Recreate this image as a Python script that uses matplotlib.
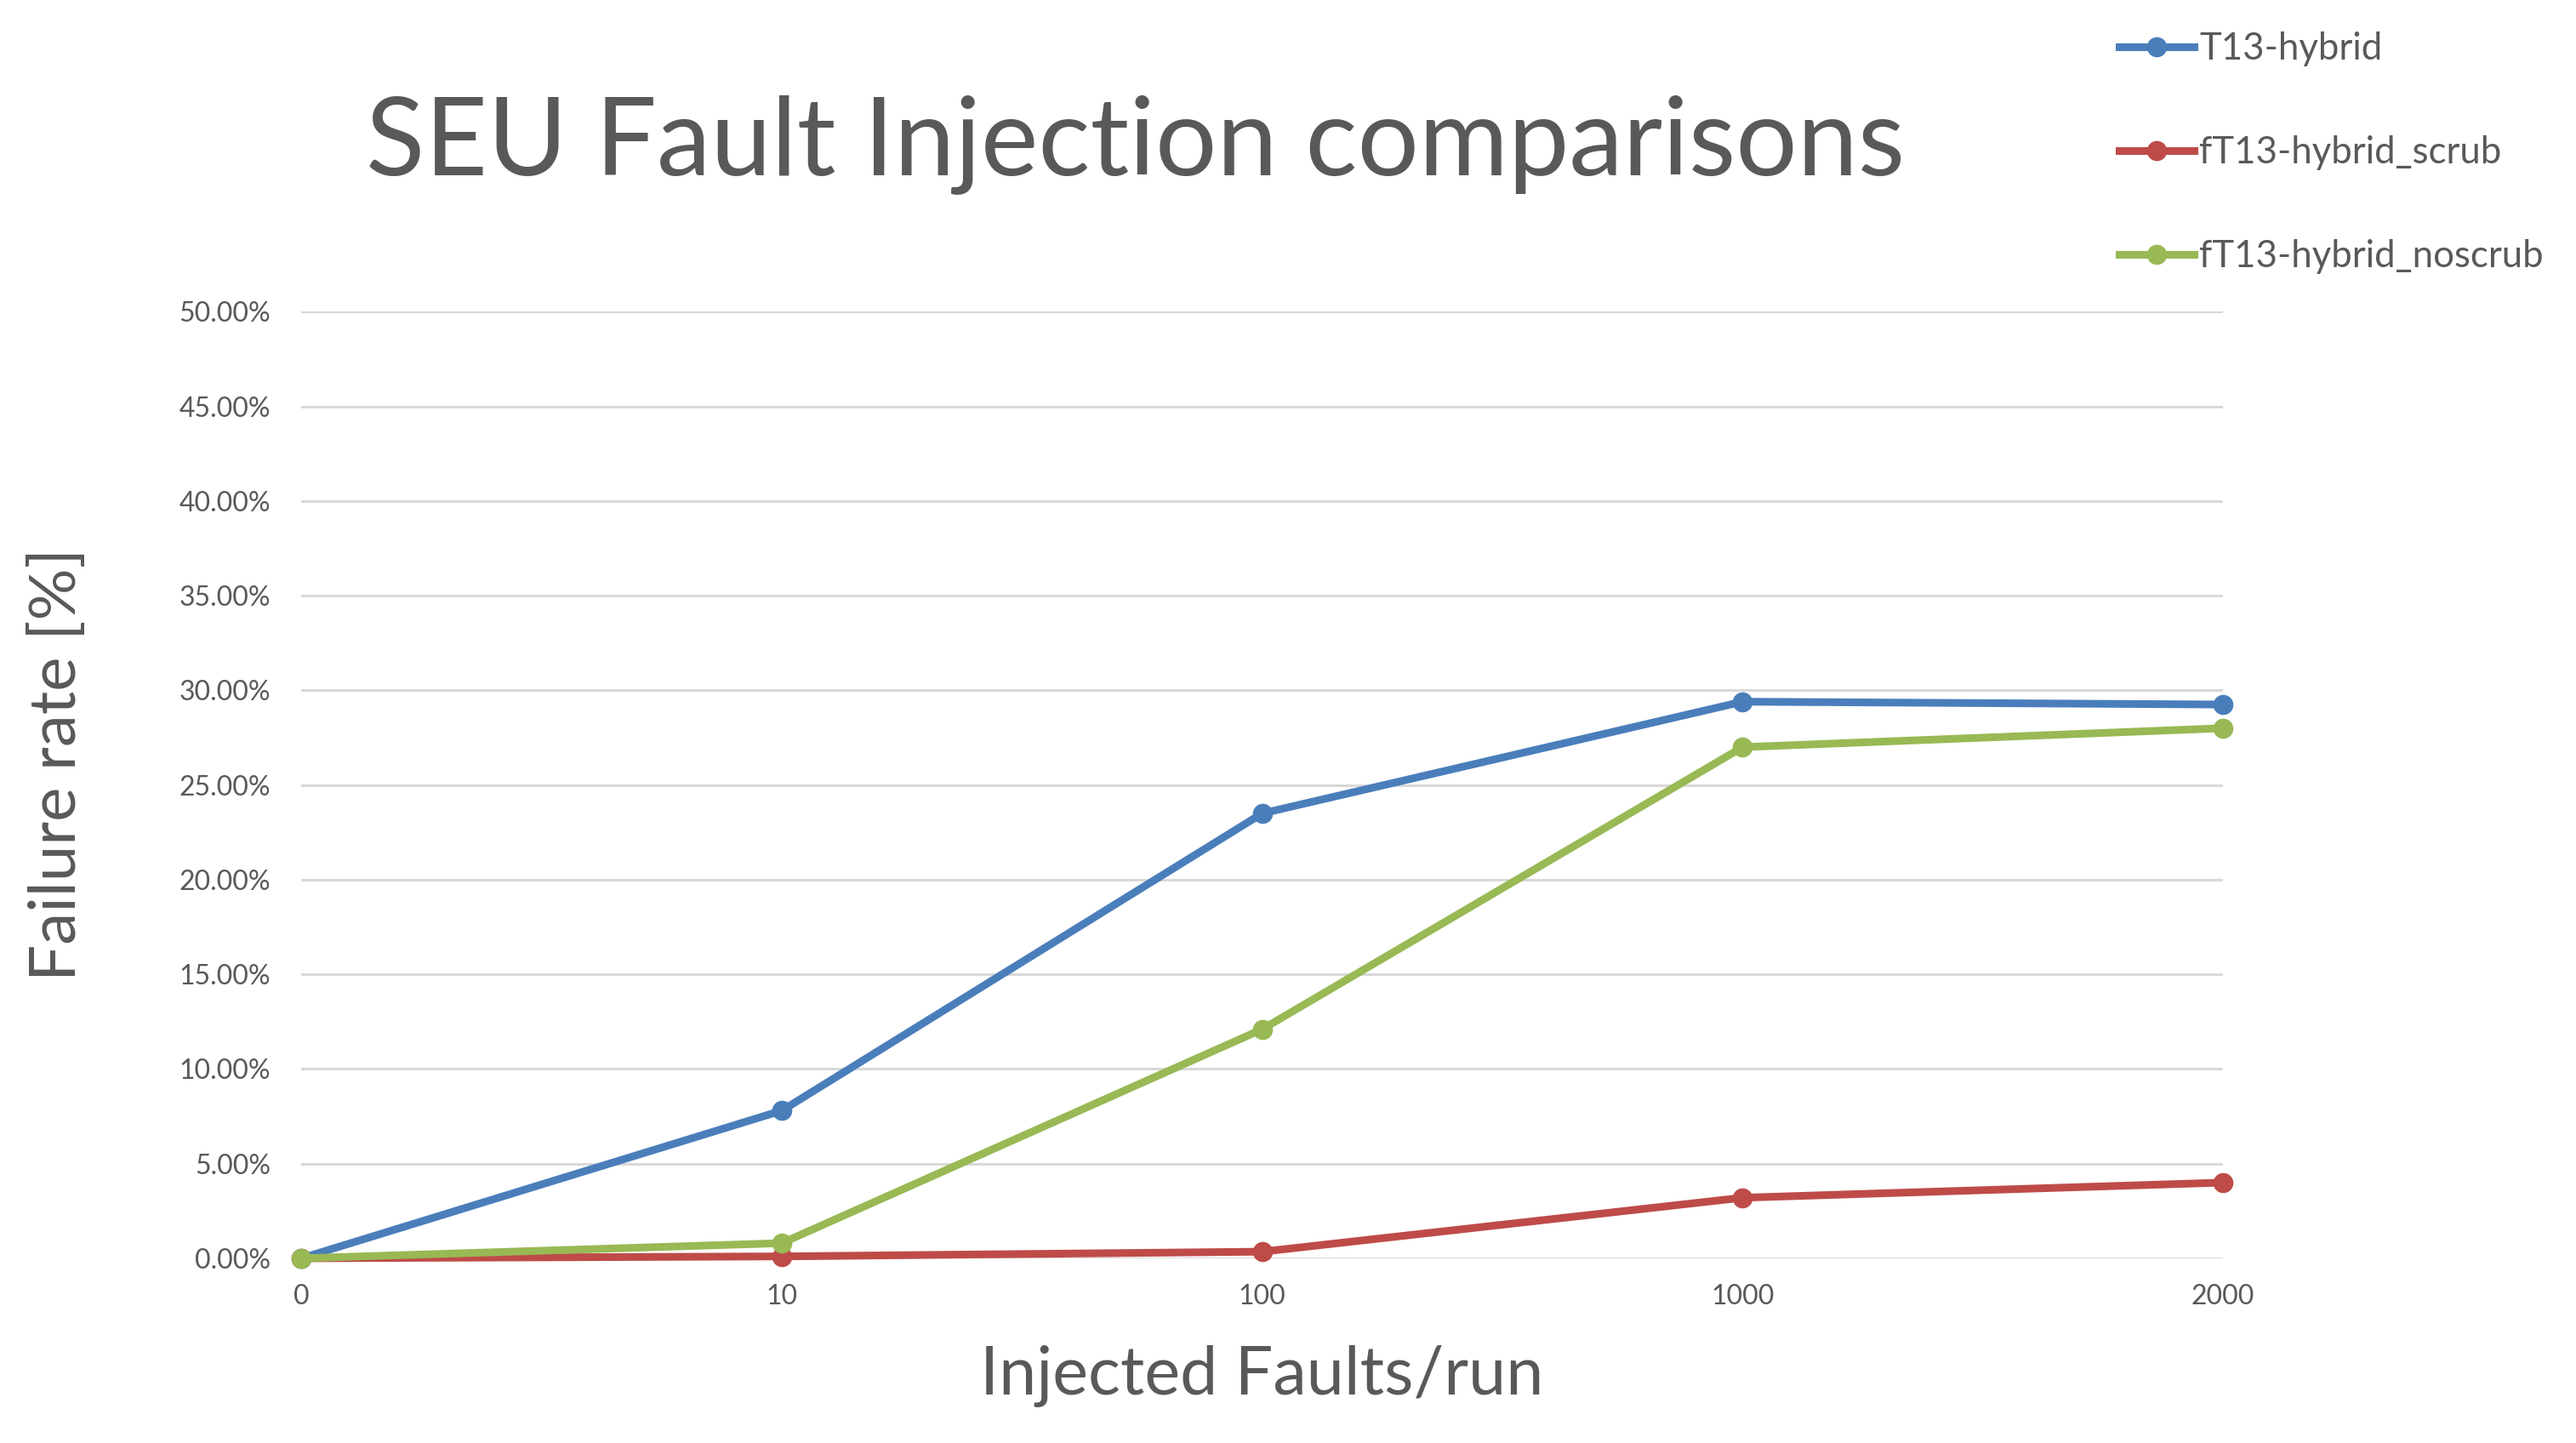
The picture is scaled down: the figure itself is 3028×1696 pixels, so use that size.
import matplotlib
matplotlib.use("Agg")
import matplotlib.pyplot as plt
from matplotlib.ticker import PercentFormatter

plt.rcParams["font.family"] = ["Lato", "DejaVu Sans"]

# injected faults per run (categorical axis)
categories = ["0", "10", "100", "1000", "2000"]

# failure rate, fraction of runs
t13_hybrid = [0.0, 0.078, 0.235, 0.294, 0.2925]
ft13_scrub = [0.0, 0.001, 0.0035, 0.032, 0.040]
ft13_noscrub = [0.0, 0.008, 0.121, 0.270, 0.280]

series = [
    ("T13-hybrid", t13_hybrid, "#4a7ebb"),
    ("fT13-hybrid_scrub", ft13_scrub, "#be4b48"),
    ("fT13-hybrid_noscrub", ft13_noscrub, "#98b954"),
]

TEXT = "#595959"

fig = plt.figure(figsize=(30.28, 16.96), dpi=100)
ax = fig.add_axes([0.117, 0.128, 0.746, 0.656])

x = list(range(len(categories)))
handles = []
for label, values, color in series:
    (line,) = ax.plot(x, values, color=color, linewidth=6.5, marker="o",
                      markersize=16, label=label, clip_on=False, zorder=3)
    handles.append(line)

ax.set_xlim(0, len(categories) - 1)
ax.set_ylim(0, 0.5)
ax.set_xticks(x)
ax.set_xticklabels(categories)
ax.set_yticks([i * 0.05 for i in range(11)])
ax.yaxis.set_major_formatter(PercentFormatter(xmax=1, decimals=2))
ax.tick_params(axis="both", length=0, labelsize=23, labelcolor=TEXT)
ax.tick_params(axis="y", pad=26)
ax.tick_params(axis="x", pad=22)
ax.grid(axis="y", color="#d9d9d9", linewidth=2.2, zorder=0)
ax.set_axisbelow(True)
for spine in ax.spines.values():
    spine.set_visible(False)

fig.text(0.4406, 0.90, "SEU Fault Injection comparisons", ha="center",
         va="center", fontsize=92, color=TEXT)
fig.text(0.4898, 0.046, "Injected Faults/run", ha="center", va="center",
         fontsize=57, color=TEXT)
fig.text(0.0224, 0.4705, "Failure rate [%]", ha="center", va="center",
         rotation=90, fontsize=55, color=TEXT)

fig.legend(handles=handles, loc="upper left",
           bbox_to_anchor=(2491 / 3028, 0.978), frameon=False,
           fontsize=31.5, labelcolor=TEXT, handlelength=2.0,
           handletextpad=0.15, labelspacing=1.85, borderpad=0,
           borderaxespad=0)

fig.savefig("out.png", dpi=100, facecolor="white")
